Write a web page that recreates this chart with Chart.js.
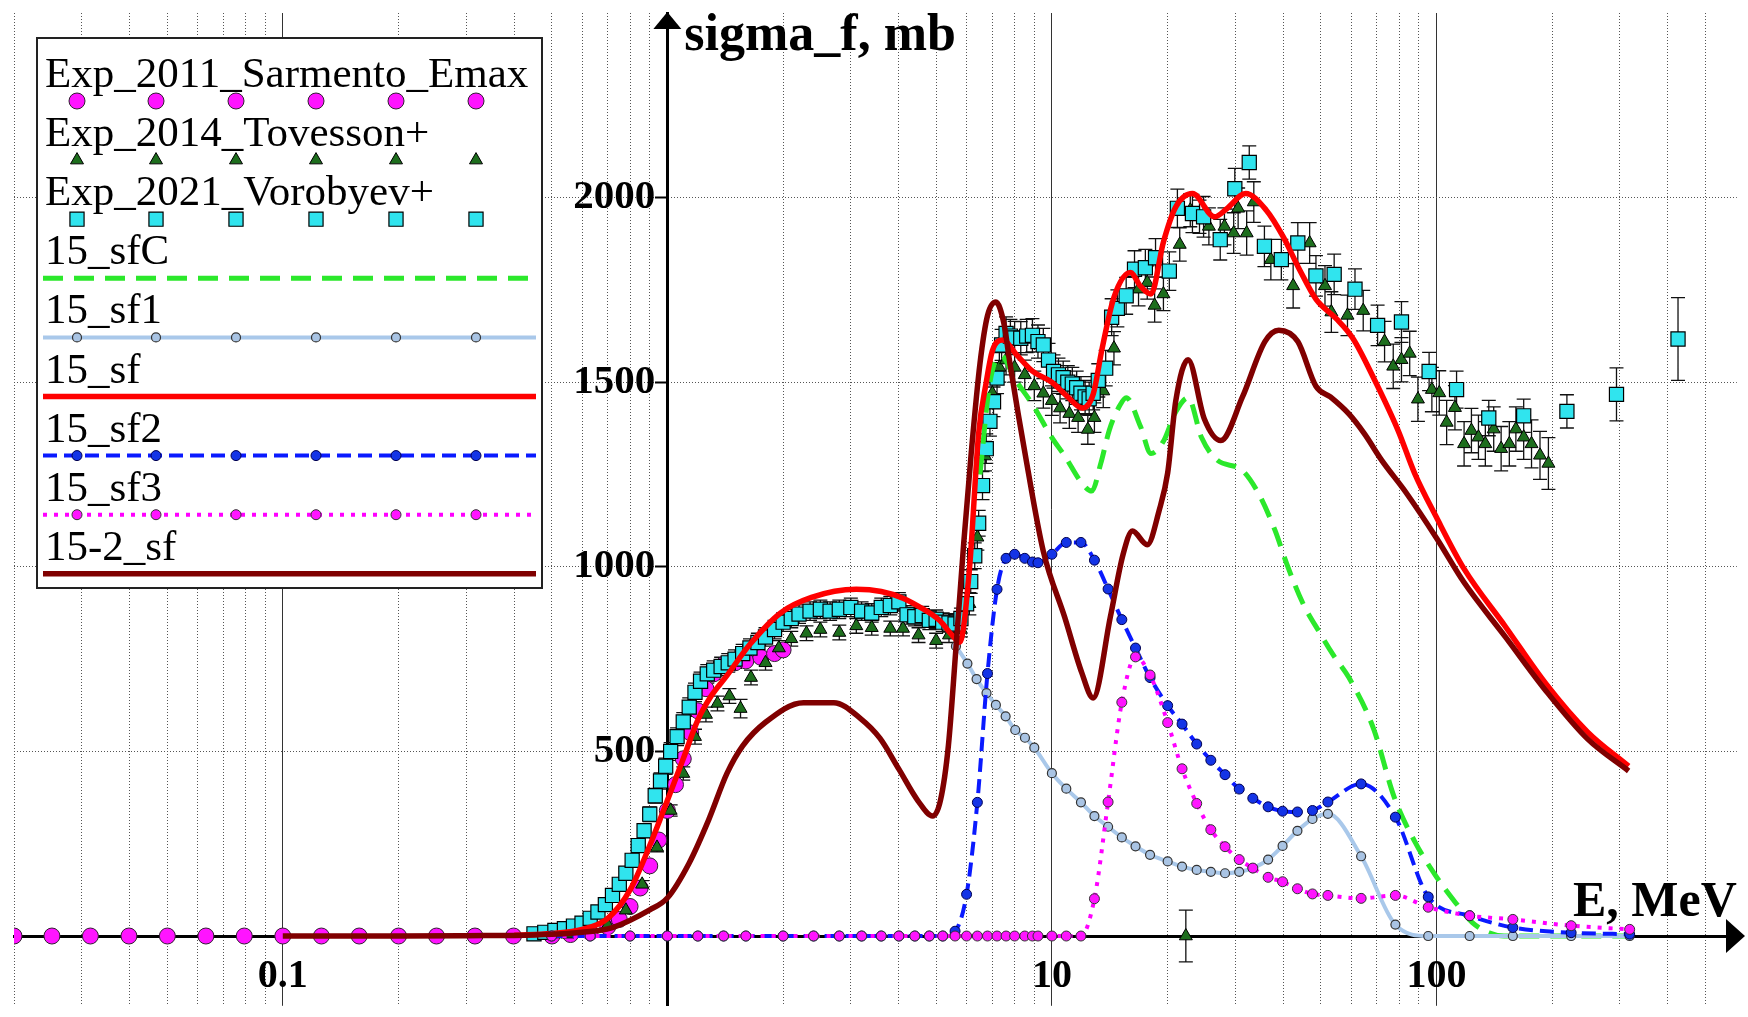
<!DOCTYPE html>
<html lang="en">
<head>
<meta charset="utf-8">
<title>sigma_f, mb vs E, MeV</title>
<script src="https://cdn.jsdelivr.net/npm/chart.js@4.4.1/dist/chart.umd.min.js"></script>
<style>
  html, body { margin: 0; padding: 0; background: #fff; }
  canvas { display: block; }
</style>
</head>
<body>
<canvas id="myChart" width="1748" height="1017"></canvas>
<script>
// values: E in MeV, sigma_f in mb

let xGrid = [0.02, 0.03, 0.04, 0.05, 0.06, 0.07, 0.08, 0.09,
             0.1, 0.2, 0.3, 0.4, 0.5, 0.6, 0.7, 0.8, 0.9,
             1, 2, 3, 4, 5, 6, 7, 8, 9,
             10, 20, 30, 40, 50, 60, 70, 80, 90,
             100, 200, 300, 400, 500];
let xMajor = [0.1, 1, 10, 100];
let xTicks = [0.1, 10, 100];
let xTickLabels = ["0.1", "10", "100"];
let yGrid = [0, 500, 1000, 1500, 2000];
let yTicks = [500, 1000, 1500, 2000];
let yTickLabels = ["500", "1000", "1500", "2000"];

// Exp_2011_Sarmento_Emax
let sarmE = [0.02, 0.0251, 0.0316, 0.0398, 0.0501, 0.0631, 0.0794, 0.1, 0.126, 0.158,
             0.2, 0.251, 0.316, 0.398, 0.501, 0.56, 0.63, 0.7, 0.75, 0.8,
             0.85, 0.9, 0.95, 1.0, 1.05, 1.1, 1.15, 1.2, 1.26, 1.32,
             1.4, 1.5, 1.6, 1.75, 1.9, 2.0];
let sarmY = [0, 0, 0, 0, 0, 0, 0, 0, 0, 0,
             0, 0, 0, 0, 0, 4, 10, 25, 45, 80,
             130, 190, 260, 340, 410, 480, 550, 610, 670, 710,
             735, 740, 745, 755, 765, 775];

// Exp_2014_Tovesson+
let tovE = [0.55, 0.62, 0.7, 0.78, 0.86, 0.94, 1.02, 1.1, 1.18, 1.26,
            1.35, 1.45, 1.55, 1.65, 1.8, 1.95, 2.1, 2.3, 2.5, 2.8,
            3.1, 3.4, 3.8, 4.1, 4.5, 5.0, 5.4, 5.8, 6.1, 6.4,
            6.7, 7.0, 7.3, 7.6, 8.0, 8.5, 9.0, 9.5, 10.0, 10.5,
            11.1, 11.7, 12.4, 12.9, 13.6, 14.5, 16.8, 17.7, 18.5, 19.5,
            21.5, 22.3, 22.9, 24.2, 25.6, 28.1, 29.7, 30.5, 32.1, 33.5,
            37.1, 42.4, 46.8, 51.3, 53.3, 58.7, 64.5, 73.3, 77.2, 81.1,
            85.2, 89.5, 97.3, 101.7, 106.3, 111.7, 118, 123.3, 128.6, 134,
            140.9, 147.3, 154.7, 160.9, 168.6, 176.7, 185.9, 195.5];
let tovY = [5, 10, 30, 70, 140, 240, 340, 440, 540, 600,
            630, 650, 616, 700, 740, 780, 805, 820, 830, 822,
            840, 835, 833, 833, 815, 800, 815, 830, 900, 1080,
            1300, 1470, 1540, 1560, 1540, 1520, 1490, 1470, 1450, 1430,
            1415, 1404, 1372, 1404, 1476, 1592, 1752, 1770, 1708, 1739,
            1873, 0, 1966, 1948, 1922, 1922, 1904, 1971, 1904, 1988,
            1832, 1761, 1877, 1761, 1690, 1681, 1694, 1610, 1543, 1561,
            1578, 1454, 1480, 1471, 1391, 1431, 1333, 1369, 1351, 1333,
            1373, 1320, 1333, 1373, 1351, 1333, 1302, 1280];
let tovErr = [3, 3, 5, 8, 10, 12, 15, 18, 20, 20,
              20, 20, 25, 20, 20, 20, 20, 20, 20, 20,
              20, 20, 20, 20, 20, 20, 20, 20, 30, 35,
              40, 40, 40, 40, 40, 40, 40, 40, 40, 40,
              40, 40, 40, 40, 45, 45, 45, 45, 45, 45,
              45, 70, 45, 45, 50, 50, 55, 55, 60, 55,
              55, 60, 55, 55, 55, 55, 55, 55, 60, 60,
              60, 60, 60, 60, 60, 60, 60, 60, 60, 60,
              60, 60, 60, 60, 60, 65, 65, 70];

// Exp_2021_Vorobyev+
let vorE = [0.45, 0.48, 0.51, 0.54, 0.57, 0.6, 0.63, 0.66, 0.69, 0.72,
            0.75, 0.78, 0.81, 0.84, 0.87, 0.9, 0.93, 0.96, 0.99, 1.02,
            1.06, 1.1, 1.14, 1.18, 1.22, 1.27, 1.32, 1.38, 1.44, 1.5,
            1.57, 1.64, 1.72, 1.8, 1.9, 2.0, 2.1, 2.2, 2.35, 2.5,
            2.65, 2.8, 3.0, 3.2, 3.4, 3.6, 3.8, 4.0, 4.2, 4.4,
            4.6, 4.8, 5.0, 5.2, 5.4, 5.6, 5.8, 6.0, 6.15, 6.3,
            6.45, 6.6, 6.75, 6.9, 7.05, 7.2, 7.4, 7.6, 7.8, 8.0,
            8.3, 8.6, 8.9, 9.2, 9.5, 9.8, 10.1, 10.4, 10.7, 11.0,
            11.3, 11.6, 11.9, 12.2, 12.5, 12.8, 13.2, 13.8, 14.3, 14.8,
            15.6, 16.4, 17.5, 18.6, 20.2, 21.2, 23.2, 24.8, 27.4, 29.9,
            32.6, 35.7, 39.5, 43.6, 48.6, 54.2, 61.4, 70.3, 81.1, 95.7,
            112.8, 136.8, 168.6, 218.4, 293.9, 424.8];
let vorY = [6, 10, 15, 20, 27, 35, 48, 65, 85, 110,
            140, 170, 205, 245, 285, 330, 380, 420, 460, 500,
            540, 580, 620, 660, 690, 710, 720, 730, 740, 750,
            765, 780, 795, 810, 830, 850, 860, 872, 880, 885,
            880, 885, 890, 880, 875, 890, 895, 905, 870, 865,
            868, 855, 858, 850, 848, 845, 860, 900, 960, 1030,
            1118, 1220, 1320, 1394, 1447, 1511, 1601, 1632, 1625, 1620,
            1619, 1625, 1627, 1610, 1601, 1560, 1529, 1520, 1512, 1500,
            1495, 1485, 1470, 1460, 1455, 1470, 1505, 1538, 1676, 1700,
            1734, 1806, 1810, 1837, 1801, 1971, 1957, 1948, 1886, 2024,
            2095, 1868, 1832, 1877, 1788, 1792, 1752, 1654, 1663, 1529,
            1480, 1403, 1409, 1421, 1467, 1617];
let vorErr = [3, 3, 4, 4, 5, 5, 6, 7, 8, 10,
              12, 13, 15, 17, 18, 20, 20, 22, 22, 24,
              24, 25, 25, 25, 25, 25, 25, 25, 25, 25,
              25, 25, 25, 25, 25, 25, 25, 25, 25, 25,
              25, 25, 25, 25, 25, 25, 25, 25, 25, 25,
              25, 25, 25, 25, 25, 25, 28, 30, 32, 35,
              35, 38, 40, 40, 40, 42, 42, 45, 45, 45,
              45, 45, 45, 45, 45, 45, 45, 45, 45, 45,
              45, 45, 45, 45, 45, 45, 45, 48, 50, 50,
              50, 50, 50, 52, 52, 52, 52, 55, 55, 55,
              45, 55, 55, 55, 55, 55, 55, 55, 55, 52,
              50, 48, 45, 45, 72, 112];

// 15_sfC
let cE = [6.5, 6.9, 7.4, 8.0, 8.9, 10.0, 10.8, 12.0, 12.7,
          13.4, 14.1, 15.0, 15.6, 17.0, 18.1, 19.5, 21.0, 22.6, 24.5,
          26.9, 31.2, 34.4, 38.0, 40.9, 45, 49.8, 54, 59.2, 68.6,
          77.6, 87.7, 99.3, 112, 124, 137, 150, 322];
let cY = [1250, 1500, 1570, 1510, 1440, 1350, 1300, 1225, 1205,
          1280, 1370, 1436, 1458, 1380, 1307, 1340, 1420, 1458, 1350,
          1289, 1262, 1200, 1100, 1005, 900, 820, 760, 700, 562,
          377, 257, 165, 91, 36, 9, 0, 0];

// 15_sf1
let s1E = [5.63, 6.03, 6.37, 6.76, 7.15, 7.58, 8.03, 8.51, 9.0, 10.0,
           10.9, 11.9, 12.9, 14.0, 15.2, 16.5, 18.0, 20, 21.8, 23.8,
           25.9, 28.2, 30.7, 33.3, 36.5, 39.8, 43.5, 47.6, 52.2, 63.7,
           78.2, 95.2, 122, 158, 224, 318];
let s1Y = [785, 738, 696, 658, 626, 595, 558, 537, 510, 441,
           399, 362, 325, 296, 267, 243, 220, 202, 188, 179,
           174, 170, 174, 184, 207, 244, 285, 317, 331, 216,
           31, 0, 0, 0, 0, 0];

// 15_sf
let sfE = [0.4, 0.5, 0.6, 0.7, 0.8, 0.9, 1.0, 1.1, 1.2, 1.3,
           1.43, 1.64, 1.97, 2.37, 3.1, 3.6, 4.1, 4.5, 5.1, 5.5,
           5.76, 6.1, 6.45, 6.75, 7.0, 7.45, 8.1, 8.9, 10, 11,
           12, 12.8, 13.5, 14.5, 16.0, 17.0, 18.1, 19.5, 21, 23.2,
           26.5, 28.5, 31.9, 36.1, 39.9, 44, 48.6, 54.9, 60.6, 68.6,
           79.5, 87.7, 100, 117.9, 150.9, 193, 247, 316];
let sfY = [2, 7, 18, 48, 125, 245, 367, 480, 585, 650,
           706, 790, 875, 917, 939, 933, 915, 893, 855, 815,
           796, 991, 1362, 1500, 1585, 1614, 1574, 1530, 1500, 1460,
           1430, 1467, 1590, 1730, 1797, 1760, 1739, 1880, 1975, 2011,
           1948, 1970, 2011, 1966, 1895, 1806, 1725, 1672, 1619, 1512,
           1369, 1254, 1134, 995, 839, 682, 553, 460];

// 15_sf2 and 15_sf3 share one energy grid
let s23E = [0.5, 0.63, 0.8, 1.0, 1.2, 1.4, 1.6, 2.0, 2.4, 2.8,
            3.2, 3.6, 4.0, 4.4, 4.8, 5.2, 5.6, 6.0, 6.4, 6.8,
            7.2, 7.6, 8.0, 8.5, 8.9, 9.2, 10.0, 10.9, 11.9, 12.9,
            14.0, 15.2, 16.5, 18.0, 20, 21.8, 23.8, 25.9, 28.2, 30.7,
            33.3, 36.5, 39.8, 43.5, 47.6, 52.2, 63.7, 78.2, 95.2, 122,
            158, 224, 318];
let s2Y = [0, 0, 0, 0, 0, 0, 0, 0, 0, 0,
           0, 0, 0, 0, 0, 0, 13, 113, 362, 711,
           939, 1023, 1034, 1023, 1013, 1011, 1034, 1066, 1066, 1018,
           940, 857, 780, 700, 624, 574, 520, 476, 437, 398,
           373, 350, 338, 336, 340, 363, 412, 322, 106, 55,
           23, 9, 5];
let s3Y = [0, 0, 0, 0, 0, 0, 0, 0, 0, 0,
           0, 0, 0, 0, 0, 0, 0, 0, 0, 0,
           0, 0, 0, 0, 0, 0, 0, 0, 0, 101,
           363, 633, 756, 707, 578, 453, 359, 288, 242, 207,
           184, 159, 147, 128, 114, 110, 102, 110, 78, 55,
           45, 28, 18];

// 15-2_sf
let d2E = [0.1, 0.2, 0.3, 0.45, 0.6, 0.72, 0.9, 1.0, 1.14, 1.28,
           1.43, 1.57, 1.8, 2.26, 2.71, 3.18, 3.57, 4.0, 4.48, 4.9,
           5.13, 5.38, 5.63, 5.9, 6.17, 6.5, 6.8, 7.15, 7.5, 7.78,
           8.6, 9.5, 10.8, 11.95, 12.8, 14.2, 15.3, 16.2, 17.7, 19.0,
           20, 21, 22.6, 24.9, 27.5, 31.3, 35.8, 38.9, 43.6, 48.6,
           53, 59.2, 65, 72, 83.5, 100, 117.9, 150.9, 193, 247, 316];
let d2Y = [0, 0, 1, 3, 10, 23, 71, 103, 198, 314,
           441, 515, 579, 632, 632, 589, 536, 452, 367, 325,
           367, 515, 780, 1066, 1309, 1550, 1680, 1717, 1660, 1550,
           1281, 1042, 863, 714, 645, 866, 1032, 1097, 1060, 1152,
           1254, 1450, 1561, 1401, 1342, 1460, 1610, 1641, 1610, 1489,
           1460, 1414, 1360, 1289, 1200, 1078, 958, 811, 663, 534, 447];

let FONT = '"Liberation Serif", "Times New Roman", serif';

function pts(xs, ys) {
    return xs.map((x, i) => ({ x: x, y: ys[i] }));
}

let datasets = [
    { label: "Exp_2011_Sarmento_Emax", data: pts(sarmE, sarmY), showLine: false,
      pointStyle: "circle", pointRadius: 8, pointBackgroundColor: "#ff14ff",
      pointBorderColor: "#302030", pointBorderWidth: 1, order: 9 },
    { label: "Exp_2014_Tovesson+", data: pts(tovE, tovY), showLine: false,
      pointStyle: "triangle", pointRadius: 7.5, pointBackgroundColor: "#1d6e1d",
      pointBorderColor: "#000", pointBorderWidth: 1, order: 8 },
    { label: "Exp_2021_Vorobyev+", data: pts(vorE, vorY), showLine: false,
      pointStyle: "rect", pointRadius: 10, pointBackgroundColor: "#30e4ee",
      pointBorderColor: "#000", pointBorderWidth: 1.2, order: 7 },
    { label: "15_sfC", data: pts(cE, cY), borderColor: "#2be82b", borderWidth: 5,
      borderDash: [20, 11], pointRadius: 0, order: 6 },
    { label: "15_sf1", data: pts(s1E, s1Y), borderColor: "#a9c8ea", borderWidth: 4,
      pointStyle: "circle", pointRadius: 4.5, pointBackgroundColor: "#a9c4e4",
      pointBorderColor: "#333", pointBorderWidth: 1.2, order: 5 },
    { label: "15_sf", data: pts(sfE, sfY), borderColor: "#ff0000", borderWidth: 5.5,
      pointRadius: 0, order: 4 },
    { label: "15_sf2", data: pts(s23E, s2Y), borderColor: "#0a1aff", borderWidth: 4,
      borderDash: [14, 7], pointStyle: "circle", pointRadius: 5,
      pointBackgroundColor: "#1434e6", pointBorderColor: "#000050", pointBorderWidth: 1, order: 3 },
    { label: "15_sf3", data: pts(s23E, s3Y), borderColor: "#ff00ff", borderWidth: 4,
      borderDash: [4, 7], pointStyle: "circle", pointRadius: 5,
      pointBackgroundColor: "#ff14ff", pointBorderColor: "#333", pointBorderWidth: 1, order: 2 },
    { label: "15-2_sf", data: pts(d2E, d2Y), borderColor: "#800000", borderWidth: 5.5,
      pointRadius: 0, order: 1 }
];

let errorBars = [
    { xs: tovE, ys: tovY, err: tovErr },
    { xs: vorE, ys: vorY, err: vorErr }
];

function drawMarker(ctx, style, x, y, r, fill, stroke, lw) {
    ctx.save();
    ctx.fillStyle = fill;
    ctx.strokeStyle = stroke;
    ctx.lineWidth = lw;
    ctx.setLineDash([]);
    ctx.beginPath();
    if (style === "triangle") {
        ctx.moveTo(x, y - r);
        ctx.lineTo(x + r * 0.866, y + r / 2);
        ctx.lineTo(x - r * 0.866, y + r / 2);
        ctx.closePath();
    } else if (style === "rect") {
        let s = r * Math.SQRT1_2;
        ctx.rect(x - s, y - s, 2 * s, 2 * s);
    } else {
        ctx.arc(x, y, r, 0, Math.PI * 2);
    }
    ctx.fill();
    ctx.stroke();
    ctx.restore();
}

function drawErrorBars(chart) {
    let ctx = chart.ctx;
    let sx = chart.scales.x, sy = chart.scales.y;
    ctx.save();
    ctx.strokeStyle = "#111";
    ctx.lineWidth = 1.3;
    ctx.beginPath();
    errorBars.forEach(b => {
        b.xs.forEach((e, i) => {
            let x = sx.getPixelForValue(e);
            let y1 = sy.getPixelForValue(b.ys[i] - b.err[i]);
            let y2 = sy.getPixelForValue(b.ys[i] + b.err[i]);
            ctx.moveTo(x, y1); ctx.lineTo(x, y2);
            ctx.moveTo(x - 7, y1); ctx.lineTo(x + 7, y1);
            ctx.moveTo(x - 7, y2); ctx.lineTo(x + 7, y2);
        });
    });
    ctx.stroke();
    ctx.restore();
}

function drawLegend(chart) {
    let ctx = chart.ctx;
    let markerXs = [77, 156, 236, 316, 396, 476];
    ctx.save();
    ctx.fillStyle = "#fff";
    ctx.fillRect(37, 38, 505, 550);
    ctx.strokeStyle = "#222";
    ctx.lineWidth = 2;
    ctx.strokeRect(37, 38, 505, 550);

    chart.data.datasets.forEach((ds, i) => {
        let ty = 87 + i * 59.1;
        let ly = ty + 14;
        ctx.font = "43px " + FONT;
        ctx.fillStyle = "#000";
        ctx.textAlign = "left";
        ctx.textBaseline = "alphabetic";
        ctx.fillText(ds.label, 45, ty);

        if (ds.showLine !== false) {
            ctx.save();
            ctx.strokeStyle = ds.borderColor;
            ctx.lineWidth = ds.borderWidth;
            ctx.setLineDash(ds.borderDash || []);
            ctx.beginPath();
            ctx.moveTo(43, ly);
            ctx.lineTo(536, ly);
            ctx.stroke();
            ctx.restore();
        }
        if (ds.pointRadius) {
            markerXs.forEach(x => drawMarker(ctx, ds.pointStyle, x, ly, ds.pointRadius,
                ds.pointBackgroundColor, ds.pointBorderColor, ds.pointBorderWidth));
        }
    });
    ctx.restore();
}

function drawAxisText(chart) {
    let ctx = chart.ctx;
    let sx = chart.scales.x, sy = chart.scales.y;
    let ax = sx.getPixelForValue(1);
    let ay = sy.getPixelForValue(0);
    ctx.save();
    ctx.fillStyle = "#000";

    // arrows at the ends of both axes
    ctx.beginPath();
    ctx.moveTo(ax, 12);
    ctx.lineTo(ax - 14, 29);
    ctx.lineTo(ax + 14, 29);
    ctx.closePath();
    ctx.fill();
    ctx.beginPath();
    ctx.moveTo(1745, ay);
    ctx.lineTo(1726, ay - 17);
    ctx.lineTo(1726, ay + 17);
    ctx.closePath();
    ctx.fill();

    // tick labels
    ctx.font = "bold 41px " + FONT;
    ctx.textAlign = "right";
    ctx.textBaseline = "middle";
    yTicks.forEach((v, i) => ctx.fillText(yTickLabels[i], ax - 12, sy.getPixelForValue(v)));
    ctx.font = "bold 40px " + FONT;
    ctx.textAlign = "center";
    ctx.textBaseline = "alphabetic";
    xTicks.forEach((v, i) => ctx.fillText(xTickLabels[i], sx.getPixelForValue(v), ay + 51));

    // axis titles
    ctx.font = "bold 52px " + FONT;
    ctx.textAlign = "left";
    ctx.fillText("sigma_f, mb", ax + 17, 50);
    ctx.font = "bold 50px " + FONT;
    ctx.fillText("E, MeV", 1573, ay - 20);
    ctx.restore();
}

let overlay = {
    id: "overlay",
    beforeDatasetsDraw(chart) {
        drawErrorBars(chart);
    },
    afterDraw(chart) {
        drawAxisText(chart);
        drawLegend(chart);
    }
};

let chart = new Chart(document.getElementById("myChart"), {
    type: "line",
    data: { datasets: datasets },
    plugins: [overlay],
    options: {
        responsive: false,
        animation: false,
        events: [],
        layout: { padding: { left: 14, top: 13, right: 3, bottom: 0 } },
        elements: { line: { cubicInterpolationMode: "monotone" } },
        plugins: {
            legend: { display: false },
            tooltip: { enabled: false }
        },
        scales: {
            x: {
                type: "logarithmic",
                min: 0.02,
                max: 604,
                position: { y: 0 },
                afterBuildTicks: s => { s.ticks = xGrid.map(v => ({ value: v })); },
                ticks: { display: false },
                grid: {
                    color: c => (c.tick && xMajor.includes(c.tick.value)) ? "#333" : "#555",
                    lineWidth: 1,
                    drawTicks: false
                },
                border: {
                    color: "#000",
                    width: 3,
                    dash: c => (c.tick && xMajor.includes(c.tick.value)) ? [] : [1, 2]
                }
            },
            y: {
                type: "linear",
                min: -189,
                max: 2500,
                position: { x: 1 },
                afterBuildTicks: s => { s.ticks = yGrid.map(v => ({ value: v })); },
                ticks: { display: false },
                grid: {
                    color: "#555",
                    lineWidth: 1,
                    tickLength: 11,
                    tickColor: "#000",
                    tickWidth: 2
                },
                border: { color: "#000", width: 3, dash: [1, 2] }
            }
        }
    }
});
</script>
</body>
</html>
